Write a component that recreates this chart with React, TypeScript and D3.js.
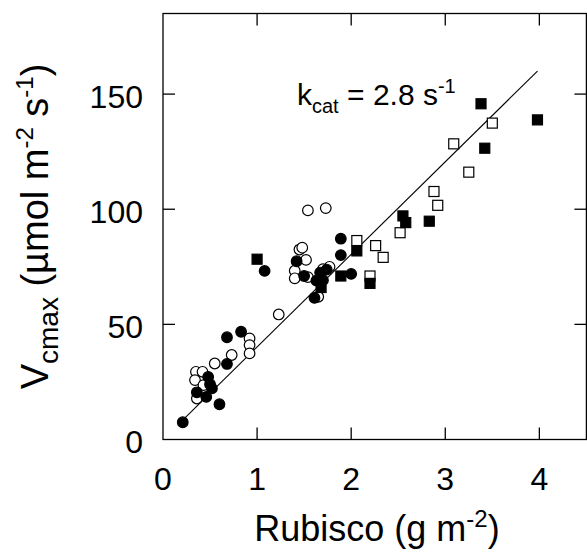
import React from "react";
import * as d3 from "d3";

// Filled circles
const filledCircles: [number, number][] = [
  [0.21, 7.5], [0.6, 15.3], [0.68, 44.4], [0.83, 46.8], [0.68, 32.8],
  [0.48, 27.2], [0.5, 24.0], [0.52, 22.2], [0.36, 20.5], [0.46, 18.5],
  [1.08, 73.2], [1.42, 77.4], [1.5, 71.0], [1.67, 72.5], [1.74, 73.8],
  [1.7, 69.2], [1.63, 69.0], [1.61, 61.5], [2.0, 71.9], [1.89, 87.2], [1.89, 80.1],
];
// Open circles
const openCircles: [number, number][] = [
  [0.35, 29.4], [0.42, 29.4], [0.34, 25.8], [0.36, 17.8], [0.43, 23.6],
  [0.55, 33.0], [0.73, 36.7], [0.92, 43.9], [0.92, 41.0], [0.92, 37.4],
  [1.23, 54.3], [1.54, 99.5], [1.73, 100.5], [1.45, 82.5], [1.48, 83.3],
  [1.52, 78.0], [1.4, 73.3], [1.4, 70.0], [1.54, 70.5], [1.77, 75.0],
  [1.7, 74.0], [1.65, 62.0],
];
// Filled squares
const filledSquares: [number, number][] = [
  [3.38, 145.8], [3.98, 138.8], [3.42, 126.5], [2.55, 97.1], [2.58, 94.2],
  [2.83, 94.8], [2.06, 81.9], [1.0, 78.3], [1.89, 71.0], [2.2, 67.8], [1.68, 66.0],
];
// Open squares
const openSquares: [number, number][] = [
  [3.5, 137.4], [3.09, 128.4], [3.25, 116.1], [2.88, 107.7], [2.92, 101.7],
  [2.52, 89.8], [2.06, 86.4], [2.26, 84.2], [2.34, 79.1], [2.2, 71.0],
];

const xTicks = [0, 1, 2, 3, 4];
const yTicks = [0, 50, 100, 150];
const fitX = [0.22, 3.98];
const fitSlope = 40.2;

const FONT = "'Liberation Sans', Arial, Helvetica, sans-serif";

export default function App() {
  const W = 587, H = 554;
  const x = d3.scaleLinear().domain([0, 4.5]).range([163, 586.4]);
  const y = d3.scaleLinear().domain([0, 185]).range([439.5, 13.5]);
  const [x0, x1] = x.range();
  const [y0, y1] = y.range();
  const tl = 12;
  const line = d3.line<number>().x((d) => x(d)).y((d) => y(fitSlope * d));
  const r = 5.3;
  const s = 10;
  return (
    <svg width={W} height={H} style={{ display: "block", position: "absolute", left: 0, top: 0 }} fontFamily={FONT}>
      <rect x={0} y={0} width={W} height={H} fill="#fff" />
      {/* frame */}
      <rect x={x0} y={y1} width={x1 - x0} height={y0 - y1} fill="none" stroke="#000" strokeWidth={1.3} />
      {/* x ticks */}
      {xTicks.filter((t) => t > 0).map((t) => (
        <g key={"xt" + t}>
          <line x1={x(t)} x2={x(t)} y1={y0} y2={y0 - tl} stroke="#000" strokeWidth={1.3} />
          <line x1={x(t)} x2={x(t)} y1={y1} y2={y1 + tl} stroke="#000" strokeWidth={1.3} />
        </g>
      ))}
      {yTicks.filter((t) => t > 0).map((t) => (
        <g key={"yt" + t}>
          <line x1={x0} x2={x0 + tl} y1={y(t)} y2={y(t)} stroke="#000" strokeWidth={1.3} />
          <line x1={x1} x2={x1 - tl} y1={y(t)} y2={y(t)} stroke="#000" strokeWidth={1.3} />
        </g>
      ))}
      {xTicks.map((t) => (
        <text key={"xl" + t} x={x(t)} y={490} textAnchor="middle" fontSize={32}>{t}</text>
      ))}
      {yTicks.map((t) => (
        <text key={"yl" + t} x={143} y={y(t) + 13.5} textAnchor="end" fontSize={32}>{t}</text>
      ))}
      {/* fit line */}
      <path d={line(fitX) || ""} fill="none" stroke="#000" strokeWidth={1.1} />
      {/* points */}
      {openCircles.map((d, i) => (
        <circle key={"oc" + i} cx={x(d[0])} cy={y(d[1])} r={r} fill="#fff" stroke="#000" strokeWidth={1.2} />
      ))}
      {filledCircles.map((d, i) => (
        <circle key={"fc" + i} cx={x(d[0])} cy={y(d[1])} r={r} fill="#000" stroke="#000" strokeWidth={1.2} />
      ))}
      {openSquares.map((d, i) => (
        <rect key={"os" + i} x={x(d[0]) - s / 2} y={y(d[1]) - s / 2} width={s} height={s} fill="#fff" stroke="#000" strokeWidth={1.2} />
      ))}
      {filledSquares.map((d, i) => (
        <rect key={"fs" + i} x={x(d[0]) - s / 2} y={y(d[1]) - s / 2} width={s} height={s} fill="#000" stroke="#000" strokeWidth={1.2} />
      ))}
      {/* annotation */}
      <text x={297} y={105} fontSize={30}>
        k<tspan fontSize={20} dy={8}>cat</tspan>
        <tspan dy={-8}> = 2.8 s</tspan>
        <tspan fontSize={20} dy={-12}>-1</tspan>
      </text>
      {/* x title */}
      <text x={377} y={541} textAnchor="middle" fontSize={36}>
        Rubisco (g m<tspan fontSize={24} dy={-14}>-2</tspan>
        <tspan dy={14}>)</tspan>
      </text>
      {/* y title */}
      <text transform={`translate(48, ${(y0 + y1) / 2}) rotate(-90)`} textAnchor="middle" fontSize={38}>
        V<tspan fontSize={28} dy={10}>cmax</tspan>
        <tspan dy={-10}> (µmol m</tspan>
        <tspan fontSize={24} dy={-15}>-2</tspan>
        <tspan dy={15}> s</tspan>
        <tspan fontSize={24} dy={-15}>-1</tspan>
        <tspan dy={15}>)</tspan>
      </text>
    </svg>
  );
}
